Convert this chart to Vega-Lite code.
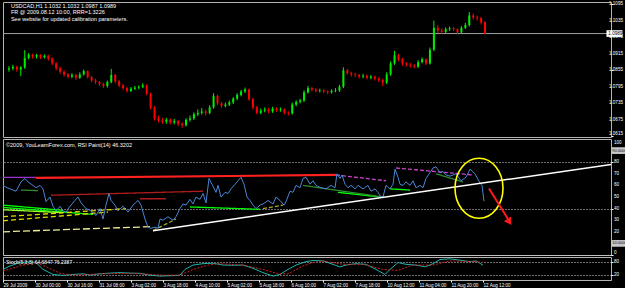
{
"$schema": "https://vega.github.io/schema/vega-lite/v6.json",
"background": "#000000",
"padding": 0,
"spacing": 2,
"bounds": "flush",
"config": {
  "view": {"stroke": "#b4b4b4", "strokeWidth": 1},
  "axis": {"labelColor": "#ffffff", "labelFont": "Liberation Sans", "labelFontSize": 4.6, "tickColor": "#ffffff", "tickSize": 2, "labelPadding": 1, "domain": false, "grid": false, "title": null, "labelOverlap": false},
  "text": {"font": "Liberation Sans", "fontSize": 5.5, "color": "#ffffff"}
},
"datasets": {
  "candles": [
    {"i":0.5,"o":1.0858,"h":1.0870,"l":1.0850,"c":1.0862},
    {"i":2.5,"o":1.0862,"h":1.0875,"l":1.0855,"c":1.0868},
    {"i":4.5,"o":1.0868,"h":1.0872,"l":1.0850,"c":1.0858},
    {"i":6.5,"o":1.0858,"h":1.0870,"l":1.0834,"c":1.0866},
    {"i":8.5,"o":1.0866,"h":1.0929,"l":1.0860,"c":1.0900},
    {"i":10.5,"o":1.0900,"h":1.0918,"l":1.0895,"c":1.0912},
    {"i":12.5,"o":1.0912,"h":1.0916,"l":1.0898,"c":1.0905},
    {"i":14.5,"o":1.0905,"h":1.0915,"l":1.0898,"c":1.0910},
    {"i":16.5,"o":1.0910,"h":1.0914,"l":1.0896,"c":1.0903},
    {"i":18.5,"o":1.0903,"h":1.0913,"l":1.0898,"c":1.0908},
    {"i":20.5,"o":1.0908,"h":1.0912,"l":1.0890,"c":1.0898},
    {"i":22.5,"o":1.0898,"h":1.0902,"l":1.0874,"c":1.0880},
    {"i":24.5,"o":1.0880,"h":1.0885,"l":1.0855,"c":1.0862},
    {"i":26.5,"o":1.0862,"h":1.0868,"l":1.0842,"c":1.0850},
    {"i":28.5,"o":1.0850,"h":1.0855,"l":1.0832,"c":1.0840},
    {"i":30.5,"o":1.0840,"h":1.0845,"l":1.0825,"c":1.0832},
    {"i":32.5,"o":1.0832,"h":1.0845,"l":1.0826,"c":1.0838},
    {"i":34.5,"o":1.0838,"h":1.0842,"l":1.0820,"c":1.0828},
    {"i":36.5,"o":1.0828,"h":1.0848,"l":1.0824,"c":1.0840},
    {"i":38.5,"o":1.0840,"h":1.0858,"l":1.0836,"c":1.0852},
    {"i":40.5,"o":1.0852,"h":1.0855,"l":1.0825,"c":1.0830},
    {"i":42.5,"o":1.0830,"h":1.0834,"l":1.0812,"c":1.0818},
    {"i":44.5,"o":1.0818,"h":1.0824,"l":1.0805,"c":1.0812},
    {"i":46.5,"o":1.0812,"h":1.0816,"l":1.0798,"c":1.0805},
    {"i":48.5,"o":1.0805,"h":1.0810,"l":1.0790,"c":1.0798},
    {"i":50.5,"o":1.0798,"h":1.0818,"l":1.0792,"c":1.0812},
    {"i":52.5,"o":1.0812,"h":1.0860,"l":1.0808,"c":1.0838},
    {"i":54.5,"o":1.0838,"h":1.0842,"l":1.0808,"c":1.0815},
    {"i":56.5,"o":1.0815,"h":1.0820,"l":1.0794,"c":1.0800},
    {"i":58.5,"o":1.0800,"h":1.0806,"l":1.0784,"c":1.0790},
    {"i":60.5,"o":1.0790,"h":1.0795,"l":1.0774,"c":1.0780},
    {"i":62.5,"o":1.0780,"h":1.0794,"l":1.0776,"c":1.0788},
    {"i":64.5,"o":1.0788,"h":1.0798,"l":1.0783,"c":1.0792},
    {"i":66.5,"o":1.0792,"h":1.0800,"l":1.0786,"c":1.0795},
    {"i":68.5,"o":1.0795,"h":1.0808,"l":1.0790,"c":1.0800},
    {"i":70.5,"o":1.0800,"h":1.0804,"l":1.0764,"c":1.0770},
    {"i":72.5,"o":1.0770,"h":1.0774,"l":1.0712,"c":1.0720},
    {"i":74.5,"o":1.0720,"h":1.0725,"l":1.0672,"c":1.0680},
    {"i":76.5,"o":1.0680,"h":1.0690,"l":1.0665,"c":1.0672},
    {"i":78.5,"o":1.0672,"h":1.0682,"l":1.0660,"c":1.0668},
    {"i":80.5,"o":1.0668,"h":1.0682,"l":1.0660,"c":1.0675},
    {"i":82.5,"o":1.0675,"h":1.0680,"l":1.0658,"c":1.0665},
    {"i":84.5,"o":1.0665,"h":1.0678,"l":1.0658,"c":1.0670},
    {"i":86.5,"o":1.0670,"h":1.0674,"l":1.0652,"c":1.0660},
    {"i":88.5,"o":1.0660,"h":1.0665,"l":1.0645,"c":1.0655},
    {"i":90.5,"o":1.0655,"h":1.0680,"l":1.0650,"c":1.0675},
    {"i":92.5,"o":1.0675,"h":1.0690,"l":1.0668,"c":1.0680},
    {"i":94.5,"o":1.0680,"h":1.0702,"l":1.0674,"c":1.0695},
    {"i":96.5,"o":1.0695,"h":1.0712,"l":1.0688,"c":1.0700},
    {"i":98.5,"o":1.0700,"h":1.0718,"l":1.0694,"c":1.0705},
    {"i":100.5,"o":1.0705,"h":1.0712,"l":1.0690,"c":1.0700},
    {"i":102.5,"o":1.0700,"h":1.0728,"l":1.0695,"c":1.0720},
    {"i":104.5,"o":1.0720,"h":1.0772,"l":1.0715,"c":1.0762},
    {"i":106.5,"o":1.0762,"h":1.0766,"l":1.0728,"c":1.0735},
    {"i":108.5,"o":1.0735,"h":1.0740,"l":1.0718,"c":1.0725},
    {"i":110.5,"o":1.0725,"h":1.0738,"l":1.0720,"c":1.0730},
    {"i":112.5,"o":1.0730,"h":1.0745,"l":1.0725,"c":1.0738},
    {"i":114.5,"o":1.0738,"h":1.0758,"l":1.0732,"c":1.0752},
    {"i":116.5,"o":1.0752,"h":1.0772,"l":1.0746,"c":1.0765},
    {"i":118.5,"o":1.0765,"h":1.0784,"l":1.0760,"c":1.0778},
    {"i":120.5,"o":1.0778,"h":1.0792,"l":1.0772,"c":1.0785},
    {"i":122.5,"o":1.0785,"h":1.0788,"l":1.0744,"c":1.0750},
    {"i":124.5,"o":1.0750,"h":1.0755,"l":1.0712,"c":1.0720},
    {"i":126.5,"o":1.0720,"h":1.0725,"l":1.0694,"c":1.0700},
    {"i":128.5,"o":1.0700,"h":1.0716,"l":1.0695,"c":1.0708},
    {"i":130.5,"o":1.0708,"h":1.0720,"l":1.0702,"c":1.0712},
    {"i":132.5,"o":1.0712,"h":1.0718,"l":1.0698,"c":1.0705},
    {"i":134.5,"o":1.0705,"h":1.0722,"l":1.0700,"c":1.0715},
    {"i":136.5,"o":1.0715,"h":1.0720,"l":1.0704,"c":1.0710},
    {"i":138.5,"o":1.0710,"h":1.0720,"l":1.0704,"c":1.0712},
    {"i":140.5,"o":1.0712,"h":1.0716,"l":1.0694,"c":1.0700},
    {"i":142.5,"o":1.0700,"h":1.0706,"l":1.0690,"c":1.0698},
    {"i":144.5,"o":1.0698,"h":1.0738,"l":1.0694,"c":1.0730},
    {"i":146.5,"o":1.0730,"h":1.0746,"l":1.0724,"c":1.0740},
    {"i":148.5,"o":1.0740,"h":1.0752,"l":1.0734,"c":1.0745},
    {"i":150.5,"o":1.0745,"h":1.0782,"l":1.0740,"c":1.0775},
    {"i":152.5,"o":1.0775,"h":1.0798,"l":1.0770,"c":1.0790},
    {"i":154.5,"o":1.0790,"h":1.0795,"l":1.0778,"c":1.0785},
    {"i":156.5,"o":1.0785,"h":1.0790,"l":1.0774,"c":1.0780},
    {"i":158.5,"o":1.0780,"h":1.0788,"l":1.0774,"c":1.0782},
    {"i":160.5,"o":1.0782,"h":1.0786,"l":1.0772,"c":1.0778},
    {"i":162.5,"o":1.0778,"h":1.0782,"l":1.0768,"c":1.0775},
    {"i":164.5,"o":1.0775,"h":1.0786,"l":1.0770,"c":1.0780},
    {"i":166.5,"o":1.0780,"h":1.0790,"l":1.0775,"c":1.0782},
    {"i":168.5,"o":1.0782,"h":1.0802,"l":1.0776,"c":1.0795},
    {"i":170.5,"o":1.0795,"h":1.0866,"l":1.0790,"c":1.0855},
    {"i":172.5,"o":1.0855,"h":1.0860,"l":1.0838,"c":1.0845},
    {"i":174.5,"o":1.0845,"h":1.0850,"l":1.0832,"c":1.0840},
    {"i":176.5,"o":1.0840,"h":1.0846,"l":1.0830,"c":1.0838},
    {"i":178.5,"o":1.0838,"h":1.0842,"l":1.0825,"c":1.0832},
    {"i":180.5,"o":1.0832,"h":1.0842,"l":1.0826,"c":1.0835},
    {"i":182.5,"o":1.0835,"h":1.0840,"l":1.0822,"c":1.0828},
    {"i":184.5,"o":1.0828,"h":1.0838,"l":1.0822,"c":1.0832},
    {"i":186.5,"o":1.0832,"h":1.0836,"l":1.0818,"c":1.0825},
    {"i":188.5,"o":1.0825,"h":1.0830,"l":1.0812,"c":1.0820},
    {"i":190.5,"o":1.0820,"h":1.0824,"l":1.0798,"c":1.0810},
    {"i":192.5,"o":1.0810,"h":1.0848,"l":1.0805,"c":1.0840},
    {"i":194.5,"o":1.0840,"h":1.0888,"l":1.0835,"c":1.0880},
    {"i":196.5,"o":1.0880,"h":1.0926,"l":1.0875,"c":1.0910},
    {"i":198.5,"o":1.0910,"h":1.0915,"l":1.0888,"c":1.0895},
    {"i":200.5,"o":1.0895,"h":1.0900,"l":1.0872,"c":1.0880},
    {"i":202.5,"o":1.0880,"h":1.0885,"l":1.0868,"c":1.0876},
    {"i":204.5,"o":1.0876,"h":1.0882,"l":1.0865,"c":1.0872},
    {"i":206.5,"o":1.0872,"h":1.0878,"l":1.0862,"c":1.0868},
    {"i":208.5,"o":1.0868,"h":1.0892,"l":1.0864,"c":1.0885},
    {"i":210.5,"o":1.0885,"h":1.0902,"l":1.0880,"c":1.0895},
    {"i":212.5,"o":1.0895,"h":1.0898,"l":1.0874,"c":1.0880},
    {"i":214.5,"o":1.0880,"h":1.0938,"l":1.0876,"c":1.0930},
    {"i":216.5,"o":1.0930,"h":1.1036,"l":1.0925,"c":1.1010},
    {"i":218.5,"o":1.1010,"h":1.1020,"l":1.0990,"c":1.1000},
    {"i":220.5,"o":1.1000,"h":1.1008,"l":1.0988,"c":1.0995},
    {"i":222.5,"o":1.0995,"h":1.1012,"l":1.0990,"c":1.1005},
    {"i":224.5,"o":1.1005,"h":1.1014,"l":1.0998,"c":1.1008},
    {"i":226.5,"o":1.1008,"h":1.1012,"l":1.0998,"c":1.1005},
    {"i":228.5,"o":1.1005,"h":1.1008,"l":1.0988,"c":1.0993},
    {"i":230.5,"o":1.0993,"h":1.1016,"l":1.0990,"c":1.1010},
    {"i":232.5,"o":1.1010,"h":1.1028,"l":1.1005,"c":1.1020},
    {"i":234.5,"o":1.1020,"h":1.1068,"l":1.1015,"c":1.1055},
    {"i":236.5,"o":1.1055,"h":1.1062,"l":1.1040,"c":1.1048},
    {"i":238.5,"o":1.1048,"h":1.1055,"l":1.1036,"c":1.1045},
    {"i":240.5,"o":1.1045,"h":1.1050,"l":1.1022,"c":1.1030},
    {"i":242.5,"o":1.1032,"h":1.1032,"l":1.0987,"c":1.0989}
  ],
  "rsi": [
    {"b":0,"v":60},{"b":2,"v":58},{"b":3.5,"v":57},{"b":6.5,"v":55},{"b":9,"v":63},{"b":11,"v":66},{"b":12.5,"v":63},{"b":15,"v":60},{"b":16.5,"v":58},{"b":18.5,"v":60},{"b":20,"v":57},{"b":21.5,"v":46},{"b":23.5,"v":50},{"b":25,"v":42},{"b":26.5,"v":38},{"b":28.5,"v":42},{"b":30,"v":38},{"b":31.5,"v":37},{"b":33.5,"v":42},{"b":36,"v":47},{"b":37.5,"v":50},{"b":39,"v":45},{"b":41.5,"v":40},{"b":44,"v":38},{"b":46.5,"v":34},{"b":48.5,"v":40},{"b":50,"v":31},{"b":51.5,"v":43},{"b":53,"v":53},{"b":54,"v":47},{"b":56,"v":43},{"b":57.5,"v":38},{"b":60,"v":42},{"b":62.5,"v":37},{"b":65,"v":43},{"b":67.5,"v":47},{"b":69,"v":43},{"b":71,"v":31},{"b":72.5,"v":24},{"b":74,"v":23},{"b":76,"v":24},{"b":77.5,"v":23},{"b":78.5,"v":31},{"b":80,"v":30},{"b":82.5,"v":33},{"b":85,"v":30},{"b":86.5,"v":33},{"b":88.5,"v":40},{"b":90,"v":44},{"b":91.5,"v":43},{"b":93.5,"v":48},{"b":95,"v":44},{"b":96.5,"v":50},{"b":98.5,"v":48},{"b":100,"v":53},{"b":101.5,"v":45},{"b":103,"v":66},{"b":104.5,"v":61},{"b":106.5,"v":54},{"b":107.5,"v":60},{"b":109,"v":50},{"b":111,"v":54},{"b":112.5,"v":53},{"b":114,"v":57},{"b":116,"v":61},{"b":117.5,"v":64},{"b":119,"v":67},{"b":120.5,"v":61},{"b":122,"v":50},{"b":123.5,"v":47},{"b":125,"v":43},{"b":126.5,"v":40},{"b":128.5,"v":43},{"b":130,"v":44},{"b":132.5,"v":47},{"b":135,"v":44},{"b":136.5,"v":50},{"b":138.5,"v":47},{"b":140.5,"v":43},{"b":141.5,"v":46},{"b":143.5,"v":55},{"b":145,"v":54},{"b":146.5,"v":60},{"b":148.5,"v":58},{"b":150,"v":66},{"b":151.5,"v":67},{"b":153.5,"v":61},{"b":155,"v":64},{"b":156.5,"v":60},{"b":159,"v":58},{"b":161.5,"v":57},{"b":164,"v":60},{"b":166,"v":58},{"b":167,"v":70},{"b":168.5,"v":66},{"b":169.5,"v":69},{"b":171,"v":61},{"b":172.5,"v":58},{"b":174,"v":60},{"b":176,"v":57},{"b":177.5,"v":60},{"b":180,"v":57},{"b":182.5,"v":60},{"b":184,"v":55},{"b":186,"v":57},{"b":187.5,"v":54},{"b":188.5,"v":51},{"b":190,"v":50},{"b":191.5,"v":60},{"b":193.5,"v":57},{"b":195,"v":61},{"b":196,"v":74},{"b":197.5,"v":67},{"b":198.5,"v":61},{"b":200,"v":60},{"b":201.5,"v":63},{"b":203.5,"v":60},{"b":205,"v":64},{"b":206.5,"v":58},{"b":208.5,"v":60},{"b":210,"v":58},{"b":211.5,"v":66},{"b":213.5,"v":71},{"b":215,"v":75},{"b":216.5,"v":76},{"b":218.5,"v":71},{"b":220,"v":72},{"b":221.5,"v":69},{"b":223.5,"v":68},{"b":225,"v":69},{"b":226.5,"v":70},{"b":229,"v":64},{"b":231.5,"v":67},{"b":233.5,"v":74},{"b":236,"v":70},{"b":238.5,"v":62},{"b":239.5,"v":60},{"b":240.5,"v":46.32}
  ],
  "segs": [
    {"k":"purple","b":0,"v":67,"b2":16.5,"v2":67},
    {"k":"red","b":16.5,"v":66.5,"b2":166.5,"v2":69},
    {"k":"darkred","b":24,"v":51.5,"b2":100,"v2":55},
    {"k":"darkred","b":68.5,"v":48.5,"b2":81.5,"v2":48.5},
    {"k":"magenta","b":166.5,"v":69,"b2":191.5,"v2":64},
    {"k":"magenta","b":196.5,"v":75,"b2":235,"v2":69},
    {"k":"darkgreen","b":9,"v":56,"b2":17.5,"v2":55.5},
    {"k":"green","b":0,"v":43,"b2":30,"v2":38.5},
    {"k":"green","b":0,"v":41,"b2":45,"v2":35},
    {"k":"lime","b":0,"v":39,"b2":30,"v2":36.5},
    {"k":"yellow","b":0,"v":33,"b2":61.5,"v2":40},
    {"k":"yellow","b":0,"v":29.5,"b2":52.5,"v2":37},
    {"k":"paleyellow","b":0,"v":20,"b2":75,"v2":24.5},
    {"k":"olivedash","b":75,"v":21,"b2":86.5,"v2":31},
    {"k":"olivedash","b":130,"v":40,"b2":140,"v2":43},
    {"k":"green","b":93.5,"v":41.4,"b2":128.5,"v2":39.4},
    {"k":"green","b":167.5,"v":54,"b2":188.5,"v2":50},
    {"k":"green","b":193.5,"v":57,"b2":203.5,"v2":56},
    {"k":"darkgreen","b":150,"v":60,"b2":190,"v2":50},
    {"k":"darkgreen","b":216.5,"v":70,"b2":230,"v2":63},
    {"k":"white","b":75,"v":21,"b2":304,"v2":78}
  ],
  "stoch": [
    {"s":"main","b":0,"v":46},{"s":"main","b":3.5,"v":61},{"s":"main","b":8.5,"v":76},{"s":"main","b":13.5,"v":80},{"s":"main","b":16.5,"v":76},{"s":"main","b":20,"v":46},{"s":"main","b":25,"v":24},{"s":"main","b":30,"v":20},{"s":"main","b":35,"v":24},{"s":"main","b":40,"v":27},{"s":"main","b":43.5,"v":21},{"s":"main","b":48.5,"v":27},{"s":"main","b":53.5,"v":30},{"s":"main","b":58.5,"v":32},{"s":"main","b":63.5,"v":30},{"s":"main","b":68.5,"v":29},{"s":"main","b":73.5,"v":21},{"s":"main","b":78.5,"v":17},{"s":"main","b":85,"v":19},{"s":"main","b":88.5,"v":21},{"s":"main","b":91,"v":46},{"s":"main","b":95,"v":65},{"s":"main","b":100,"v":71},{"s":"main","b":105,"v":73},{"s":"main","b":110,"v":65},{"s":"main","b":115,"v":64},{"s":"main","b":120,"v":65},{"s":"main","b":125,"v":51},{"s":"main","b":130,"v":32},{"s":"main","b":135,"v":17},{"s":"main","b":138.5,"v":24},{"s":"main","b":142.5,"v":46},{"s":"main","b":146.5,"v":65},{"s":"main","b":151.5,"v":80},{"s":"main","b":155,"v":85},{"s":"main","b":160,"v":83},{"s":"main","b":165,"v":68},{"s":"main","b":168.5,"v":57},{"s":"main","b":171.5,"v":65},{"s":"main","b":176.5,"v":71},{"s":"main","b":181.5,"v":68},{"s":"main","b":186.5,"v":46},{"s":"main","b":191,"v":24},{"s":"main","b":193.5,"v":46},{"s":"main","b":197.5,"v":76},{"s":"main","b":201.5,"v":68},{"s":"main","b":206.5,"v":65},{"s":"main","b":211,"v":57},{"s":"main","b":215,"v":71},{"s":"main","b":218.5,"v":89},{"s":"main","b":223.5,"v":92},{"s":"main","b":228.5,"v":86},{"s":"main","b":233.5,"v":80},{"s":"main","b":236.5,"v":83},{"s":"main","b":240,"v":64.68},
    {"s":"signal","b":0,"v":39},{"s":"signal","b":8.5,"v":61},{"s":"signal","b":16.5,"v":76},{"s":"signal","b":22.5,"v":54},{"s":"signal","b":28.5,"v":29},{"s":"signal","b":35,"v":21},{"s":"signal","b":50,"v":27},{"s":"signal","b":65,"v":29},{"s":"signal","b":80,"v":21},{"s":"signal","b":88.5,"v":21},{"s":"signal","b":95,"v":46},{"s":"signal","b":102.5,"v":65},{"s":"signal","b":107.5,"v":71},{"s":"signal","b":120,"v":65},{"s":"signal","b":130,"v":46},{"s":"signal","b":137.5,"v":27},{"s":"signal","b":142.5,"v":27},{"s":"signal","b":150,"v":61},{"s":"signal","b":155,"v":76},{"s":"signal","b":160,"v":83},{"s":"signal","b":170,"v":68},{"s":"signal","b":180,"v":68},{"s":"signal","b":190,"v":46},{"s":"signal","b":197.5,"v":42},{"s":"signal","b":205,"v":65},{"s":"signal","b":215,"v":65},{"s":"signal","b":223.5,"v":83},{"s":"signal","b":235,"v":80},{"s":"signal","b":240,"v":76.24}
  ]
},
"vconcat": [
  {
    "width": 608, "height": 135,
    "layer": [
      {
        "data": {"values": [{"p": 1.0989}]},
        "mark": {"type": "rule", "color": "#a0a0a0", "strokeWidth": 1},
        "encoding": {
          "y": {"field": "p", "type": "quantitative", "scale": {"domain": [1.0612, 1.1104], "nice": false, "zero": false},
                "axis": {"orient": "right", "values": [1.0615, 1.0675, 1.0735, 1.0795, 1.0855, 1.0915, 1.0975, 1.1035, 1.1095], "labels": false, "title": null}}
        }
      },
      {
        "data": {"name": "candles"},
        "mark": {"type": "rule", "strokeWidth": 1},
        "encoding": {
          "x": {"field": "i", "type": "quantitative", "scale": {"domain": [0, 304], "nice": false, "zero": false}, "axis": null},
          "y": {"field": "l", "type": "quantitative"},
          "y2": {"field": "h"},
          "color": {"condition": {"test": "datum.c >= datum.o", "value": "#00ee00"}, "value": "#ff0000"}
        }
      },
      {
        "data": {"name": "candles"},
        "mark": {"type": "bar", "size": 2},
        "encoding": {
          "x": {"field": "i", "type": "quantitative"},
          "y": {"field": "o", "type": "quantitative"},
          "y2": {"field": "c"},
          "color": {"condition": {"test": "datum.c >= datum.o", "value": "#00ee00"}, "value": "#ff0000"}
        }
      },
      {
        "data": {"values": [
          {"b": 1.5, "p": 1.1089, "t": "USDCAD,H1  1.1032 1.1032 1.0987 1.0989"},
          {"b": 1.5, "p": 1.1066, "t": "FR @ 2009.08.12 10:00, RRR=1.3226"},
          {"b": 1.5, "p": 1.1042, "t": "See website for updated calibration parameters."}
        ]},
        "mark": {"type": "text", "align": "left", "baseline": "middle"},
        "encoding": {
          "x": {"field": "b", "type": "quantitative"},
          "y": {"field": "p", "type": "quantitative"},
          "text": {"field": "t"}
        }
      },
      {
        "data": {"values": [{"p": 1.0675}, {"p": 1.0735}, {"p": 1.0795}, {"p": 1.0855}, {"p": 1.0915}, {"p": 1.0975}, {"p": 1.1035}, {"p": 1.1095}]},
        "mark": {"type": "text", "align": "left", "baseline": "middle", "fontSize": 4.6},
        "encoding": {
          "x": {"datum": 305.5, "type": "quantitative"},
          "y": {"field": "p", "type": "quantitative"},
          "text": {"field": "p", "type": "quantitative", "format": ".4f"}
        }
      },
      {
        "data": {"values": [{"p": 1.0615}]},
        "mark": {"type": "text", "align": "left", "baseline": "bottom", "fontSize": 4.6},
        "encoding": {
          "x": {"datum": 305.5, "type": "quantitative"},
          "y": {"field": "p", "type": "quantitative"},
          "text": {"field": "p", "type": "quantitative", "format": ".4f"}
        }
      },
      {
        "data": {"values": [{"p": 1.0989, "t": "1.0989"}]},
        "mark": {"type": "point", "shape": "M-1,-0.42H1V0.42H-1Z", "size": 256, "filled": true, "fill": "#ffffff", "opacity": 1, "strokeWidth": 0},
        "encoding": {
          "x": {"datum": 308.3, "type": "quantitative"},
          "y": {"field": "p", "type": "quantitative"}
        }
      },
      {
        "data": {"values": [{"p": 1.0989, "t": "1.0989"}]},
        "mark": {"type": "text", "align": "left", "baseline": "middle", "color": "#000000", "fontSize": 4.6},
        "encoding": {
          "x": {"datum": 305.2, "type": "quantitative"},
          "y": {"field": "p", "type": "quantitative"},
          "text": {"field": "t"}
        }
      }
    ]
  },
  {
    "width": 608, "height": 116,
    "layer": [
      {
        "data": {"name": "segs"},
        "transform": [{"filter": "datum.k != 'white' && datum.k != 'red'"}],
        "mark": {"type": "rule", "strokeWidth": 1.3},
        "encoding": {
          "x": {"field": "b", "type": "quantitative", "scale": {"domain": [0, 304], "nice": false, "zero": false}, "axis": null},
          "x2": {"field": "b2"},
          "y": {"field": "v", "type": "quantitative", "scale": {"domain": [0, 100], "nice": false},
                "axis": {"orient": "right", "values": [0, 10, 20, 30, 40, 50, 60, 70, 80, 90, 100], "grid": true, "gridColor": "#d8d8d8", "gridDash": [1, 2], "gridWidth": 1, "labels": false, "title": null}},
          "y2": {"field": "v2"},
          "color": {"field": "k", "type": "nominal", "legend": null,
                    "scale": {"domain": ["purple", "darkred", "magenta", "darkgreen", "green", "lime", "yellow", "paleyellow", "olivedash"],
                              "range": ["#9932cc", "#b01c1c", "#cc44cc", "#2e8b2e", "#00ff00", "#9cff30", "#e0e000", "#eeee99", "#a8a830"]}},
          "strokeDash": {"field": "k", "type": "nominal", "legend": null,
                    "scale": {"domain": ["purple", "darkred", "magenta", "darkgreen", "green", "lime", "yellow", "paleyellow", "olivedash"],
                              "range": [[1, 0], [1, 0], [4, 2], [1, 0], [1, 0], [1, 0], [5, 3], [7, 3], [4, 2]]}}
        }
      },
      {
        "data": {"name": "segs"},
        "transform": [{"filter": "datum.k == 'red'"}],
        "mark": {"type": "rule", "strokeWidth": 2.2, "color": "#ff2020"},
        "encoding": {
          "x": {"field": "b", "type": "quantitative"},
          "x2": {"field": "b2"},
          "y": {"field": "v", "type": "quantitative"},
          "y2": {"field": "v2"}
        }
      },
      {
        "data": {"name": "rsi"},
        "mark": {"type": "line", "color": "#4a86d4", "strokeWidth": 1},
        "encoding": {
          "x": {"field": "b", "type": "quantitative"},
          "y": {"field": "v", "type": "quantitative"}
        }
      },
      {
        "data": {"name": "segs"},
        "transform": [{"filter": "datum.k == 'white'"}],
        "mark": {"type": "rule", "strokeWidth": 1.5, "color": "#ffffff"},
        "encoding": {
          "x": {"field": "b", "type": "quantitative"},
          "x2": {"field": "b2"},
          "y": {"field": "v", "type": "quantitative"},
          "y2": {"field": "v2"}
        }
      },
      {
        "data": {"values": [{"b": 238, "v": 57.5}]},
        "mark": {"type": "point", "shape": "M0,-1.25C0.552,-1.25,1,-0.69,1,0C1,0.69,0.552,1.25,0,1.25C-0.552,1.25,-1,0.69,-1,0C-1,-0.69,-0.552,-1.25,0,-1.25Z", "size": 2304, "filled": false, "stroke": "#ffff00", "strokeWidth": 1.6, "opacity": 1},
        "encoding": {
          "x": {"field": "b", "type": "quantitative"},
          "y": {"field": "v", "type": "quantitative"}
        }
      },
      {
        "data": {"values": [{"b": 243, "v": 57.3, "b2": 252.5, "v2": 31}]},
        "mark": {"type": "rule", "strokeWidth": 2, "color": "#ff1a1a"},
        "encoding": {
          "x": {"field": "b", "type": "quantitative"},
          "x2": {"field": "b2"},
          "y": {"field": "v", "type": "quantitative"},
          "y2": {"field": "v2"}
        }
      },
      {
        "data": {"values": [{"b": 253.2, "v": 28.5}]},
        "mark": {"type": "point", "shape": "triangle-down", "size": 70, "filled": true, "color": "#ff1a1a", "opacity": 1, "angle": 327},
        "encoding": {
          "x": {"field": "b", "type": "quantitative"},
          "y": {"field": "v", "type": "quantitative"}
        }
      },
      {
        "data": {"values": [{"b": 1.5, "v": 95, "t": "©2009, YouLearnForex.com, RSI Paint(14) 46.3202"}]},
        "mark": {"type": "text", "align": "left", "baseline": "middle"},
        "encoding": {
          "x": {"field": "b", "type": "quantitative"},
          "y": {"field": "v", "type": "quantitative"},
          "text": {"field": "t"}
        }
      },
      {
        "data": {"values": [{"v": 20}, {"v": 30}, {"v": 40}, {"v": 50}, {"v": 60}, {"v": 70}, {"v": 80}]},
        "mark": {"type": "text", "align": "left", "baseline": "middle", "fontSize": 4.6},
        "encoding": {
          "x": {"datum": 305.5, "type": "quantitative"},
          "y": {"field": "v", "type": "quantitative"},
          "text": {"field": "v", "type": "quantitative"}
        }
      },
      {
        "data": {"values": [{"v": 100}]},
        "mark": {"type": "text", "align": "left", "baseline": "top", "fontSize": 4.6, "dy": 0.5},
        "encoding": {
          "x": {"datum": 305.5, "type": "quantitative"},
          "y": {"field": "v", "type": "quantitative"},
          "text": {"field": "v", "type": "quantitative"}
        }
      },
      {
        "data": {"values": [{"v": 0}]},
        "mark": {"type": "text", "align": "left", "baseline": "bottom", "fontSize": 4.6},
        "encoding": {
          "x": {"datum": 305.5, "type": "quantitative"},
          "y": {"field": "v", "type": "quantitative"},
          "text": {"field": "v", "type": "quantitative"}
        }
      },
      {
        "data": {"values": [{"v": 90, "t": "90.0000"}, {"v": 10, "t": "10.0000"}]},
        "mark": {"type": "point", "shape": "M-1,-0.42H1V0.42H-1Z", "size": 256, "filled": true, "fill": "#c8c8c8", "opacity": 1, "strokeWidth": 0},
        "encoding": {
          "x": {"datum": 308.2, "type": "quantitative"},
          "y": {"field": "v", "type": "quantitative"}
        }
      },
      {
        "data": {"values": [{"v": 90, "t": "90.0000"}, {"v": 10, "t": "10.0000"}]},
        "mark": {"type": "text", "align": "left", "baseline": "middle", "color": "#000000", "fontSize": 4},
        "encoding": {
          "x": {"datum": 304.6, "type": "quantitative"},
          "y": {"field": "v", "type": "quantitative"},
          "text": {"field": "t"}
        }
      }
    ]
  },
  {
    "width": 608, "height": 23,
    "layer": [
      {
        "data": {"name": "stoch"},
        "transform": [{"filter": "datum.s == 'main'"}],
        "mark": {"type": "line", "color": "#20b2aa", "strokeWidth": 1},
        "encoding": {
          "x": {"field": "b", "type": "quantitative", "scale": {"domain": [0, 304], "nice": false, "zero": false},
                "axis": {"orient": "bottom", "values": [0, 16, 32, 48, 64, 80, 96, 112, 128, 144, 160, 176, 192, 208, 224, 240],
                         "labelExpr": "['29 Jul 2009','30 Jul 00:00','30 Jul 16:00','31 Jul 08:00','3 Aug 02:00','3 Aug 18:00','4 Aug 10:00','5 Aug 02:00','5 Aug 18:00','6 Aug 10:00','7 Aug 02:00','7 Aug 18:00','10 Aug 12:00','11 Aug 04:00','11 Aug 20:00','12 Aug 12:00'][round(datum.value/16)]",
                         "labelAlign": "left", "labelOverlap": false, "tickSize": 2, "labelPadding": 0, "title": null}},
          "y": {"field": "v", "type": "quantitative", "scale": {"domain": [0, 100], "nice": false},
                "axis": {"orient": "right", "values": [20, 80], "grid": true, "gridColor": "#d8d8d8", "gridDash": [1, 2], "labels": false, "title": null}}
        }
      },
      {
        "data": {"name": "stoch"},
        "transform": [{"filter": "datum.s == 'signal'"}],
        "mark": {"type": "line", "color": "#d02020", "strokeWidth": 1, "strokeDash": [2, 1.5]},
        "encoding": {
          "x": {"field": "b", "type": "quantitative"},
          "y": {"field": "v", "type": "quantitative"}
        }
      },
      {
        "data": {"values": [{"v": 20}, {"v": 80}]},
        "mark": {"type": "text", "align": "left", "baseline": "middle", "fontSize": 4.6},
        "encoding": {
          "x": {"datum": 305.5, "type": "quantitative"},
          "y": {"field": "v", "type": "quantitative"},
          "text": {"field": "v", "type": "quantitative"}
        }
      },
      {
        "data": {"values": [{"b": 1.5, "v": 80, "t": "Stoch(5,3,3) 64.6847 76.2387"}]},
        "mark": {"type": "text", "align": "left", "baseline": "middle", "fontSize": 5},
        "encoding": {
          "x": {"field": "b", "type": "quantitative"},
          "y": {"field": "v", "type": "quantitative"},
          "text": {"field": "t"}
        }
      }
    ]
  }
]
}
